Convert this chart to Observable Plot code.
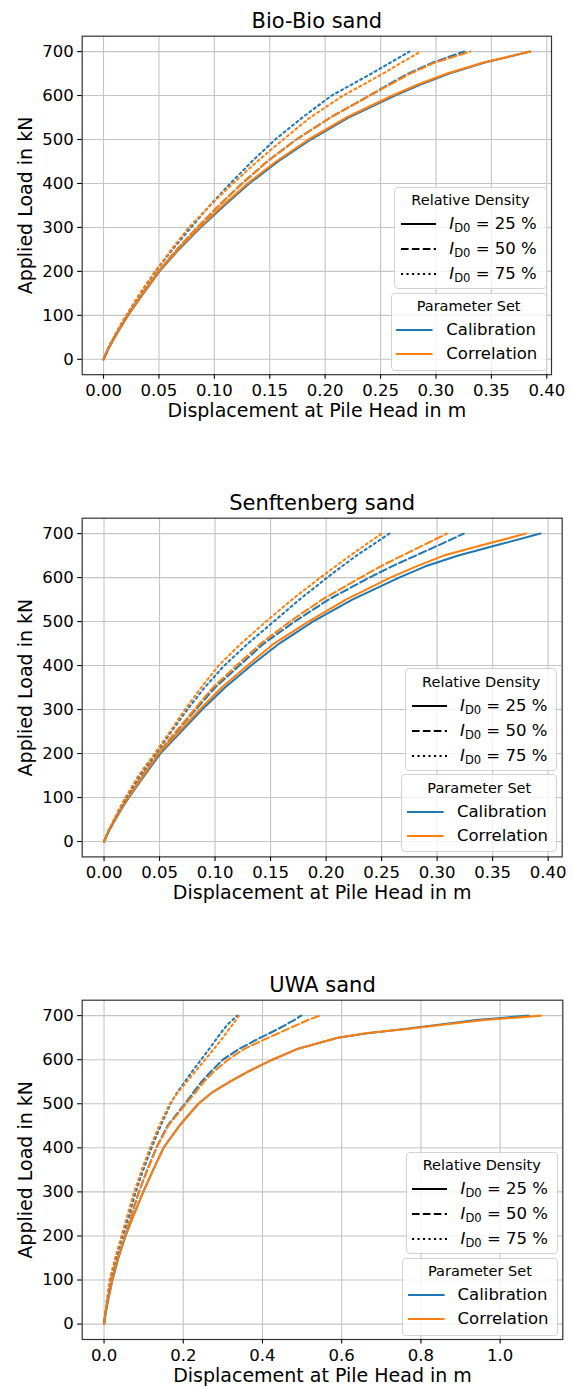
<!DOCTYPE html>
<html><head><meta charset="utf-8">
<script src="https://cdn.jsdelivr.net/npm/d3@7"></script>
<script src="https://cdn.jsdelivr.net/npm/@observablehq/plot@0.6"></script>
<style>
html,body{margin:0;padding:0;background:#fff;}
#root{position:relative;width:574px;height:1387px;overflow:hidden;font-family:"DejaVu Sans",sans-serif;color:#000;}
.panel{position:absolute;left:0;width:574px;}
.leg{position:absolute;box-sizing:border-box;border:1px solid #d2d2d2;border-radius:4px;background:rgba(255,255,255,0.8);}
.leg .t{position:absolute;left:0;right:0;text-align:center;font-size:14.5px;line-height:18px;white-space:nowrap;}
.leg .e{position:absolute;font-size:16.5px;line-height:20px;white-space:nowrap;}
.leg svg{position:absolute;overflow:visible;}
.leg sub{font-size:0.7em;vertical-align:-0.3em;line-height:0;}
</style></head>
<body><div id="root"></div>
<script>
// ---- data: applied load levels (kN) and displacement at pile head (m) ----
const loadsBio = [0,25,50,75,100,150,200,250,300,350,400,450,500,550,600,625,650,675,700];
const bioCal25 = [0,0.0045,0.010,0.016,0.022,0.036,0.0505,0.068,0.0875,0.109,0.1315,0.1575,0.187,0.221,0.263,0.286,0.312,0.344,0.385];
const bioCor25 = [0,0.0045,0.010,0.016,0.022,0.0357,0.050,0.0674,0.0865,0.1075,0.130,0.1557,0.185,0.219,0.2607,0.2837,0.310,0.343,0.385];
const bioCal50 = [0,0.0045,0.010,0.0157,0.0218,0.0352,0.0493,0.0663,0.0846,0.1042,0.125,0.1477,0.1739,0.2047,0.240,0.257,0.275,0.297,0.3256];
const bioCor50 = [0,0.0045,0.010,0.0157,0.0218,0.0352,0.0493,0.0663,0.0846,0.1042,0.125,0.1477,0.1739,0.2047,0.2402,0.2586,0.2768,0.299,0.331];
const bioCal75 = [0,0.004,0.0093,0.0147,0.0207,0.0332,0.0467,0.0623,0.079,0.0959,0.1144,0.1339,0.1549,0.1794,0.2058,0.2238,0.2418,0.259,0.276];
const bioCor75 = [0,0.004,0.0092,0.0145,0.0205,0.0328,0.0465,0.0613,0.0769,0.0962,0.1167,0.1386,0.1621,0.1864,0.2161,0.2345,0.2521,0.2691,0.286];

const loadsSen = [0,25,50,75,100,150,200,250,300,350,400,450,500,550,600,625,650,675,700];
const senCal25 = [0,0.0045,0.0102,0.016,0.0225,0.0365,0.0507,0.0695,0.0883,0.109,0.1325,0.1578,0.188,0.2236,0.2657,0.2889,0.3191,0.3559,0.393];
const senCor25 = [0,0.0044,0.0099,0.0156,0.022,0.0357,0.0495,0.0678,0.0863,0.106,0.1292,0.1531,0.184,0.2179,0.2578,0.2807,0.3059,0.3426,0.380];
const senCal50 = [0,0.0044,0.0098,0.0153,0.0213,0.0345,0.0485,0.0653,0.0826,0.100,0.1219,0.1439,0.1717,0.2022,0.239,0.2588,0.2807,0.3026,0.324];
const senCor50 = [0,0.0044,0.0098,0.0153,0.0213,0.0345,0.0485,0.0647,0.0813,0.098,0.1193,0.1412,0.1674,0.1965,0.231,0.2486,0.2685,0.2887,0.309];
const senCal75 = [0,0.0042,0.0092,0.0143,0.020,0.0323,0.0466,0.0608,0.075,0.0906,0.1083,0.1296,0.1528,0.176,0.201,0.214,0.2274,0.2422,0.257];
const senCor75 = [0,0.004,0.0089,0.0138,0.0193,0.031,0.0455,0.0594,0.0728,0.0875,0.1032,0.1234,0.1459,0.1693,0.1948,0.2082,0.2217,0.2358,0.25];

const loadsUwa = [0,25,50,75,100,150,200,250,300,350,400,450,500,525,550,575,600,625,650,660,670,680,690,700];
const uwaCal25 = [0,0.004,0.009,0.015,0.021,0.036,0.054,0.076,0.099,0.124,0.15,0.19,0.238,0.272,0.318,0.368,0.425,0.49,0.59,0.665,0.765,0.85,0.94,1.072];
const uwaCor25 = [0,0.004,0.009,0.015,0.021,0.036,0.054,0.076,0.099,0.124,0.15,0.19,0.238,0.272,0.318,0.368,0.425,0.49,0.59,0.66,0.77,0.86,0.96,1.103];
const uwaCal50 = [0,0.0035,0.008,0.013,0.019,0.035,0.053,0.07,0.088,0.109,0.132,0.16,0.204,0.225,0.246,0.272,0.3,0.342,0.395,0.418,0.44,0.46,0.48,0.498];
const uwaCor50 = [0,0.0035,0.008,0.013,0.019,0.035,0.053,0.07,0.088,0.109,0.132,0.162,0.207,0.23,0.252,0.28,0.313,0.355,0.415,0.44,0.465,0.49,0.515,0.545];
const uwaCal75 = [0,0.003,0.007,0.011,0.015,0.03,0.047,0.064,0.08,0.099,0.12,0.143,0.168,0.184,0.204,0.224,0.245,0.266,0.286,0.294,0.303,0.312,0.324,0.336];
const uwaCor75 = [0,0.003,0.0065,0.0105,0.014,0.028,0.044,0.06,0.076,0.095,0.116,0.139,0.166,0.186,0.209,0.232,0.255,0.278,0.30,0.308,0.316,0.325,0.333,0.341];

const titles = ["Bio-Bio sand", "Senftenberg sand", "UWA sand"];
const xTicksSmall = [0,0.05,0.10,0.15,0.20,0.25,0.30,0.35,0.40];
const xTicksUwa = [0,0.2,0.4,0.6,0.8,1.0];
const yTicks = [0,100,200,300,400,500,600,700];
const densities = ["25", "50", "75"];
const paramSets = ["Calibration", "Correlation"];
const xLabel = "Displacement at Pile Head in m";
const yLabel = "Applied Load in kN";

const COLORS = {Calibration: "#1f77b4", Correlation: "#ff7f0e"};
const DASH = {"25": null, "50": "7.6,3.3", "75": "2.1,3.4"};

function rowsOf(loads, disp) { return disp.map((d, i) => ({d, L: loads[i]})); }

const panels = [
  {title: titles[0], top: 0, frameRight: 551, frameH: 338.5, xDomain: [-0.01925, 0.40425], xTicks: xTicksSmall, fmt: d => d.toFixed(2),
   loads: loadsBio, series: [[bioCal25,"Calibration","25"],[bioCor25,"Correlation","25"],[bioCal50,"Calibration","50"],[bioCor50,"Correlation","50"],[bioCal75,"Calibration","75"],[bioCor75,"Correlation","75"]]},
  {title: titles[1], top: 481.6, frameRight: 561.7, frameH: 338.7, xDomain: [-0.01965, 0.41265], xTicks: xTicksSmall, fmt: d => d.toFixed(2),
   loads: loadsSen, series: [[senCal25,"Calibration","25"],[senCor25,"Correlation","25"],[senCal50,"Calibration","50"],[senCor50,"Correlation","50"],[senCal75,"Calibration","75"],[senCor75,"Correlation","75"]]},
  {title: titles[2], top: 964.3, frameRight: 562.3, frameH: 339.3, xDomain: [-0.05515, 1.15815], xTicks: xTicksUwa, fmt: d => d.toFixed(1),
   loads: loadsUwa, series: [[uwaCal25,"Calibration","25"],[uwaCor25,"Correlation","25"],[uwaCal50,"Calibration","50"],[uwaCor50,"Correlation","50"],[uwaCal75,"Calibration","75"],[uwaCor75,"Correlation","75"]]}
];

const root = document.getElementById("root");
const MT = 35.7, ML = 81.7, H = 430;

function makeLegend(parent, right, top, width, height, title, entries, lx0, lx1, tx, rowYs, titleY) {
  const box = document.createElement("div");
  box.className = "leg";
  box.style.left = (right - width) + "px";
  box.style.top = top + "px";
  box.style.width = width + "px";
  box.style.height = height + "px";
  const t = document.createElement("div");
  t.className = "t"; t.textContent = title; t.style.top = (titleY - 9 - 1) + "px";
  box.appendChild(t);
  entries.forEach((en, i) => {
    const cy = rowYs[i] - 1;
    const svg = document.createElementNS("http://www.w3.org/2000/svg", "svg");
    svg.setAttribute("width", lx1 - lx0 + 2); svg.setAttribute("height", 6);
    svg.style.left = (lx0 - 1 - 1) + "px"; svg.style.top = (cy - 3) + "px";
    const ln = document.createElementNS("http://www.w3.org/2000/svg", "line");
    ln.setAttribute("x1", 1); ln.setAttribute("x2", lx1 - lx0 + 1);
    ln.setAttribute("y1", 3); ln.setAttribute("y2", 3);
    ln.setAttribute("stroke", en.color); ln.setAttribute("stroke-width", 2.05);
    if (en.dash) ln.setAttribute("stroke-dasharray", en.dash);
    svg.appendChild(ln);
    box.appendChild(svg);
    const e = document.createElement("div");
    e.className = "e"; e.innerHTML = en.html;
    e.style.left = (tx - 1) + "px"; e.style.top = (cy - 10) + "px";
    box.appendChild(e);
  });
  parent.appendChild(box);
}

panels.forEach(p => {
  const div = document.createElement("div");
  div.className = "panel";
  div.style.top = p.top + "px";
  div.style.height = H + "px";
  const mb = H - MT - p.frameH;
  const marks = [
    Plot.gridX(p.xTicks, {stroke: "#c4c4c4", strokeOpacity: 1, strokeWidth: 1.1}),
    Plot.gridY(yTicks, {stroke: "#c4c4c4", strokeOpacity: 1, strokeWidth: 1.1}),
    ...p.series.map(([disp, set, dens]) =>
      Plot.line(rowsOf(p.loads, disp), {x: "d", y: "L", stroke: COLORS[set], strokeWidth: 2.05,
        strokeDasharray: DASH[dens] || undefined, strokeLinejoin: "round", curve: "linear"})),
    Plot.frame({stroke: "#333", strokeWidth: 1.2}),
    Plot.axisX(p.xTicks, {tickSize: 4.5, tickPadding: 5, tickFormat: p.fmt, label: null, fontSize: 16.5, strokeWidth: 1.1}),
    Plot.axisY(yTicks, {tickSize: 4.5, tickPadding: 4, tickFormat: d => String(d), label: null, fontSize: 16.5, strokeWidth: 1.1}),
    Plot.text([p.title], {frameAnchor: "top", dy: -15, lineAnchor: "middle", textAnchor: "middle", text: d => d, fontSize: 21}),
    Plot.text([xLabel], {frameAnchor: "bottom", dy: 36, lineAnchor: "middle", textAnchor: "middle", text: d => d, fontSize: 19}),
    Plot.text([yLabel], {frameAnchor: "left", dx: -56, rotate: -90, lineAnchor: "middle", textAnchor: "middle", text: d => d, fontSize: 19})
  ];
  const chart = Plot.plot({
    width: 574, height: H,
    marginTop: MT, marginLeft: ML, marginRight: 574 - p.frameRight, marginBottom: mb,
    x: {domain: p.xDomain, nice: false},
    y: {domain: [-35, 735], nice: false},
    style: {fontFamily: "DejaVu Sans", fontSize: "16.5px", color: "#000", background: "transparent", overflow: "visible"},
    marks
  });
  div.appendChild(chart);
  const frameBottom = MT + p.frameH;
  const right = p.frameRight - 4.4;
  makeLegend(div, right, frameBottom - 187.6, 152.3, 102.6, "Relative Density",
    densities.map(d => ({color: "#000", dash: DASH[d], html: `<i>I</i><sub>D0</sub> = ${d} %`})),
    6.7, 41.7, 55, [37.3, 62.6, 87.3], 13.3);
  makeLegend(div, right, frameBottom - 3.6 - 78, 156, 78, "Parameter Set",
    paramSets.map(s => ({color: COLORS[s], dash: null, html: s})),
    5.7, 42.3, 55.7, [37.3, 61.3], 13.3);
  root.appendChild(div);
});
</script>
</body></html>
